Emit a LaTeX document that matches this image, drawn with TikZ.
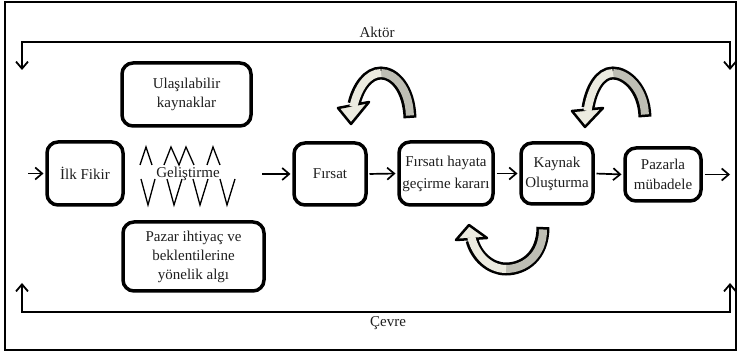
\documentclass[tikz,border=0pt]{standalone}
\usepackage{fontspec}
\setmainfont{Liberation Serif}
\usetikzlibrary{arrows.meta}
\definecolor{darkband}{RGB}{190,190,180}
\definecolor{lightband}{RGB}{236,235,224}
\definecolor{ink}{RGB}{30,30,30}
\begin{document}
\begin{tikzpicture}[x=1pt,y=-1pt,
  every node/.style={font=\fontsize{15}{19}\selectfont, text=ink},
  box/.style={draw, line width=3.5pt, rounded corners=11pt, align=center, inner sep=0pt},
  barb/.style={line width=1.7pt, -{Straight Barb[length=7pt,width=12pt]}},
  frameline/.style={line width=1.8pt, {Straight Barb[length=7pt,width=12pt]}-{Straight Barb[length=7pt,width=12pt]}},
  zig/.style={line width=1.3pt},
  bandout/.style={line width=13pt, draw=black},
  banddark/.style={line width=8pt, draw=darkband},
  bandlight/.style={line width=8pt, draw=lightband},
  headshape/.style={draw=black, line width=2.5pt, fill=lightband, line join=round}]
\useasboundingbox (0,0) rectangle (740,355);

% outer frame
\draw[line width=2pt] (5,2) rectangle (736,350);

% actor and environment brackets
\coordinate (aLd) at (22,70);
\coordinate (aL) at (22,42);
\coordinate (aR) at (730,42);
\coordinate (aRd) at (730,70);
\draw[frameline] (aLd) -- (aL) -- (aR) -- (aRd);
\node (aktor) at (377,32) {Aktör};

\coordinate (cLu) at (22,283);
\coordinate (cL) at (22,312);
\coordinate (cR) at (730,312);
\coordinate (cRu) at (730,283);
\draw[frameline] (cLu) -- (cL) -- (cR) -- (cRu);
\node (cevre) at (388,323) {Çevre};

% process boxes
\node[box, minimum width=76pt, minimum height=63pt] (ilk) at (85,173.5) {İlk Fikir};
\node[box, minimum width=129pt, minimum height=63pt] (kaynaklar) at (186.5,94.5) {Ulaşılabilir\\kaynaklar};
\node[box, minimum width=141pt, minimum height=69pt] (pazar) at (193.5,256.5) {Pazar ihtiyaç ve\\beklentilerine\\yönelik algı};
\node[box, minimum width=72pt, minimum height=62pt] (firsat) at (330,174) {Fırsat};
\node[box, minimum width=94pt, minimum height=63pt, font=\fontsize{15}{22}\selectfont] (karar) at (446,173.5) {Fırsatı hayata\\geçirme kararı};
\node[box, minimum width=72pt, minimum height=61pt, font=\fontsize{15}{20}\selectfont] (olustur) at (557,173.5) {Kaynak\\Oluşturma};
\node[box, minimum width=76pt, minimum height=53pt, font=\fontsize{15}{20}\selectfont] (mubadele) at (663,174.5) {Pazarla\\mübadele};

% development stage: zigzag strokes around the label
\node (gelis) at (188,174) {Geliştirme};
\draw[zig] (140,165) -- (146,147) -- (152,165);
\draw[zig] (164,165) -- (171,147) -- (179,165) -- (186,147) -- (194,165);
\draw[zig] (207,165) -- (213,147) -- (220,165);
\draw[zig] (141,179) -- (148,205) -- (155,179);
\draw[zig] (167,179) -- (174,205) -- (182,179);
\draw[zig] (193,179) -- (200,205) -- (208,179);
\draw[zig] (220,179) -- (227,205) -- (235,179);

% flow arrows
\coordinate (inL) at (28,173.5);
\coordinate (gelisR) at (262,174);
\coordinate (outR) at (730,174.5);
\draw[barb, shorten >=1.75pt] (inL) -- (ilk.west);
\draw[barb, shorten >=1.75pt] (gelisR) -- (firsat.west);
\draw[barb, shorten <=1.75pt, shorten >=1.75pt] (firsat.east) -- (karar.west);
\draw[barb, shorten <=1.75pt, shorten >=1.75pt] (karar.east) -- (olustur.west);
\draw[barb, shorten <=1.75pt, shorten >=1.75pt] (olustur.east) -- (mubadele.west);
\draw[barb, shorten <=1.75pt] (mubadele.east) -- (outR);

% feedback loop above Fırsat
\draw[bandout] (410,118) .. controls (409,88) and (394,73) .. (381,73) .. controls (368,73) and (358,87) .. (354,104);
\draw[headshape] (338,108) -- (351,124) -- (369,102) -- cycle;
\draw[banddark, shorten <=2.5pt] (410,118) .. controls (409,88) and (394,73) .. (381,73);
\draw[bandlight, shorten >=-3pt] (381,73) .. controls (368,73) and (358,87) .. (354,104);

% feedback loop above Kaynak Oluşturma
\draw[bandout] (645,117) .. controls (644,88) and (626,73) .. (613,73) .. controls (600,73) and (591,89) .. (588,108);
\draw[headshape] (572,111) -- (585,127) -- (603,108) -- cycle;
\draw[banddark, shorten <=2.5pt] (645,117) .. controls (644,88) and (626,73) .. (613,73);
\draw[bandlight, shorten >=-3pt] (613,73) .. controls (600,73) and (591,89) .. (588,108);

% feedback loop below
\draw[bandout] (543,227) .. controls (543,256) and (524,269) .. (506,269) .. controls (490,269) and (476,256) .. (472,240);
\draw[headshape] (456,240) -- (469,225) -- (487,238) -- cycle;
\draw[banddark, shorten <=2.5pt] (543,227) .. controls (543,256) and (524,269) .. (506,269);
\draw[bandlight, shorten >=-3pt] (506,269) .. controls (490,269) and (476,256) .. (472,240);
\end{tikzpicture}
\end{document}
